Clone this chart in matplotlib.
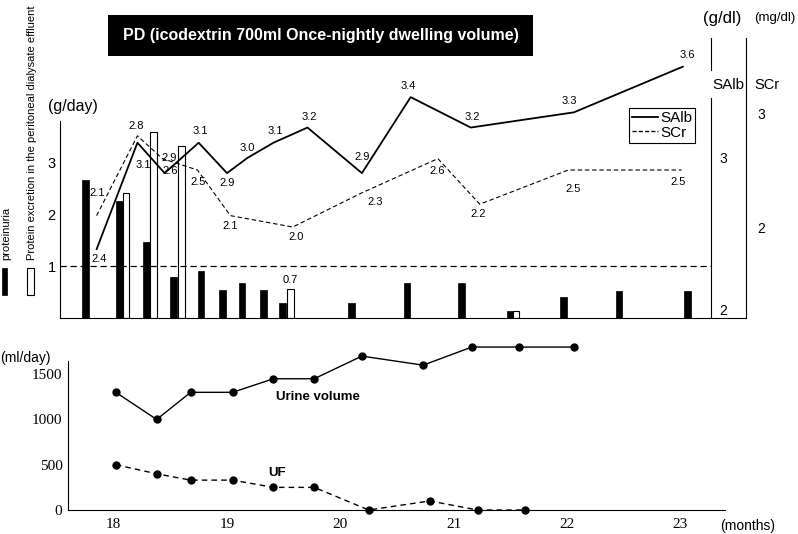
import matplotlib
matplotlib.use('Agg')
import matplotlib.pyplot as plt
from matplotlib.patches import Rectangle
from matplotlib.lines import Line2D

plt.rcParams['font.family'] = ['Liberation Sans', 'DejaVu Sans']

# ---- data ----
salb_months = [17.85, 18.21, 18.45, 18.75, 19.00, 19.18, 19.41, 19.71, 20.19, 20.62, 21.15, 22.06, 23.02]
salb = [2.4, 3.1, 2.9, 3.1, 2.9, 3.0, 3.1, 3.2, 2.9, 3.4, 3.2, 3.3, 3.6]

scr_months = [17.85, 18.21, 18.43, 18.74, 19.03, 19.58, 20.19, 20.86, 21.23, 22.01, 23.01]
scr = [2.1, 2.8, 2.6, 2.5, 2.1, 2.0, 2.3, 2.6, 2.2, 2.5, 2.5]

prot_months = [17.75, 18.05, 18.29, 18.53, 18.77, 18.96, 19.13, 19.32, 19.49,
               20.10, 20.59, 21.07, 21.50, 21.97, 22.46, 23.06]
proteinuria = [2.65, 2.25, 1.46, 0.79, 0.90, 0.54, 0.67, 0.54, 0.29,
               0.29, 0.67, 0.67, 0.13, 0.40, 0.52, 0.52]

pd_months = [18.11, 18.35, 18.60, 19.56, 21.55]
pd_protein = [2.40, 3.58, 3.31, 0.55, 0.13]
pd_label_idx = 3
pd_label = "0.7"

urine_months = [18.02, 18.38, 18.68, 19.05, 19.41, 19.77, 20.19, 20.73, 21.16, 21.58, 22.06]
urine = [1300, 1000, 1300, 1300, 1450, 1450, 1700, 1600, 1800, 1800, 1800]

uf_months = [18.02, 18.38, 18.68, 19.05, 19.41, 19.77, 20.25, 20.79, 21.21, 21.63]
uf = [500, 400, 330, 330, 250, 250, 0, 100, 0, 0]

month_ticks = [18, 19, 20, 21, 22, 23]
ml_ticks = [0, 500, 1000, 1500]

title = "PD (icodextrin 700ml Once-nightly dwelling volume)"

# label offsets in pixels (dx, dy)
salb_off = [(3, -10), (6, -22), (4, 15), (2, 12), (0, -10), (0, 10), (2, 12),
            (2, 11), (0, 16), (-2, 11), (2, 11), (-5, 11), (5, 12)]
scr_off = [(1, 23), (-1, 10), (8, -12), (1, -12), (0, -10), (3, -10), (13, -9),
           (-1, -12), (-2, -10), (5, -19), (-3, -12)]

W, H = 798, 534
def fx(px): return px / W
def fy(py): return 1 - py / H

fig = plt.figure(figsize=(7.98, 5.34), dpi=100)

# ---- top panel ----
ax = fig.add_axes([fx(60), fy(318), (746 - 60) / W, (318 - 38) / H])
ax.set_xlim(17.527, 23.578)
ax.set_ylim(0, 280 / 52)
ax.bar(prot_months, proteinuria, width=0.057, color='black', edgecolor='black', lw=0.5)
ax.bar(pd_months, pd_protein, width=0.057, color='white', edgecolor='black', lw=0.8)
ax.annotate(pd_label, xy=(pd_months[pd_label_idx], pd_protein[pd_label_idx]),
            xytext=(0, 9), textcoords='offset pixels', ha='center', va='center', fontsize=8)
ax.axhline(1, xmax=(711 - 60) / 686, color='black', lw=0.9, ls=(0, (5, 3)))
ax.set_xticks([])
ax.set_yticks([1, 2, 3])
ax.tick_params(axis='y', length=0, pad=3, labelsize=10.5)
for s in ['top', 'right']:
    ax.spines[s].set_visible(False)
ax.spines['left'].set_bounds(0, 3.79)

# SAlb
ax2 = ax.twinx()
ax2.set_ylim(1.947, 3.789)
ax2.plot(salb_months, salb, color='black', lw=1.3)
for m, v, (dx, dy) in zip(salb_months, salb, salb_off):
    ax2.annotate(f"{v:.1f}", xy=(m, v), xytext=(dx, dy), textcoords='offset pixels',
                 ha='center', va='center', fontsize=8)
for s in ['top', 'left', 'bottom']:
    ax2.spines[s].set_visible(False)
ax2.spines['right'].set_position(('axes', (711 - 60) / 686))
ax2.spines['right'].set_bounds(1.947, 3.395)
ax2.set_yticks([2, 3])
ax2.tick_params(axis='y', length=0, pad=6, labelsize=10)
fig.add_artist(Line2D([fx(711), fx(711)], [fy(38), fy(70)], color='black', lw=0.8))

# SCr
ax3 = ax.twinx()
ax3.set_ylim(1.202, 3.658)
ax3.plot(scr_months, scr, color='black', lw=0.8, ls=(0, (4, 2.5)))
for m, v, (dx, dy) in zip(scr_months, scr, scr_off):
    ax3.annotate(f"{v:.1f}", xy=(m, v), xytext=(dx, dy), textcoords='offset pixels',
                 ha='center', va='center', fontsize=8)
for s in ['top', 'left', 'bottom']:
    ax3.spines[s].set_visible(False)
ax3.set_yticks([2, 3])
ax3.tick_params(axis='y', length=0, pad=8, labelsize=10)

handles = [Line2D([], [], color='black', lw=1.3),
           Line2D([], [], color='black', lw=1.0, ls=(0, (3, 1.5)))]
leg = fig.legend(handles, ['SAlb', 'SCr'], loc='upper left',
                 bbox_to_anchor=(fx(629), fy(108)), bbox_transform=fig.transFigure,
                 frameon=True, fancybox=False, edgecolor='black', framealpha=1,
                 fontsize=11, handlelength=1.7, handletextpad=0.15, borderpad=0.2,
                 labelspacing=0.05, borderaxespad=0)
leg.get_frame().set_linewidth(0.8)

# title box
fig.add_artist(Rectangle((fx(108), fy(56)), (533 - 108) / W, 41 / H,
                         transform=fig.transFigure, facecolor='black', edgecolor='none'))
fig.text(fx(320.5), fy(35.5), title, color='white', fontweight='bold',
         fontsize=11.5, ha='center', va='center')

fig.text(fx(73), fy(107), '(g/day)', fontsize=11.5, ha='center', va='center')
fig.text(fx(722), fy(18), '(g/dl)', fontsize=12, ha='center', va='center')
fig.text(fx(775), fy(18), '(mg/dl)', fontsize=9.5, ha='center', va='center')
fig.text(fx(728), fy(85), 'SAlb', fontsize=11, ha='center', va='center')
fig.text(fx(767), fy(85), 'SCr', fontsize=10.5, ha='center', va='center')

# left legend for bars
fig.add_artist(Rectangle((fx(2), fy(295)), 5 / W, 27 / H, transform=fig.transFigure,
                         facecolor='black', edgecolor='black', lw=0.5))
fig.add_artist(Rectangle((fx(27), fy(295)), 7 / W, 27 / H, transform=fig.transFigure,
                         facecolor='white', edgecolor='black', lw=0.8))
fig.text(fx(6), fy(260), 'proteinuria', rotation=90, fontsize=8, ha='center', va='bottom')
fig.text(fx(32), fy(260), 'Protein excretion in the peritoneal dialysate effluent',
         rotation=90, fontsize=8, ha='center', va='bottom')

# ---- bottom panel ----
bx = fig.add_axes([fx(68), fy(510), (725 - 68) / W, (510 - 338) / H])
bx.set_xlim(17.598, 23.393)
bx.set_ylim(0, 1900)
bx.plot(urine_months, urine, 'o-', color='black', ms=5, lw=1, clip_on=False)
bx.plot(uf_months, uf, 'o', ls=(0, (4, 3)), color='black', ms=5, lw=1, clip_on=False)
bx.set_xticks(month_ticks)
bx.set_yticks(ml_ticks)
bx.tick_params(length=0, labelsize=11)
bx.tick_params(axis='x', pad=6)
bx.tick_params(axis='y', pad=4)
for lab in bx.get_xticklabels() + bx.get_yticklabels():
    lab.set_family('Liberation Serif')
for s in ['top', 'right']:
    bx.spines[s].set_visible(False)
bx.spines['left'].set_bounds(0, 1650)

fig.text(fx(318), fy(397), 'Urine volume', fontweight='bold', fontsize=9.5, ha='center', va='center')
fig.text(fx(277), fy(473), 'UF', fontweight='bold', fontsize=9.5, ha='center', va='center')
fig.text(fx(25), fy(358), '(ml/day)', fontsize=10, ha='center', va='center')
fig.text(fx(748), fy(526), '(months)', fontsize=10, ha='center', va='center')

fig.savefig('out.png', dpi=100)
